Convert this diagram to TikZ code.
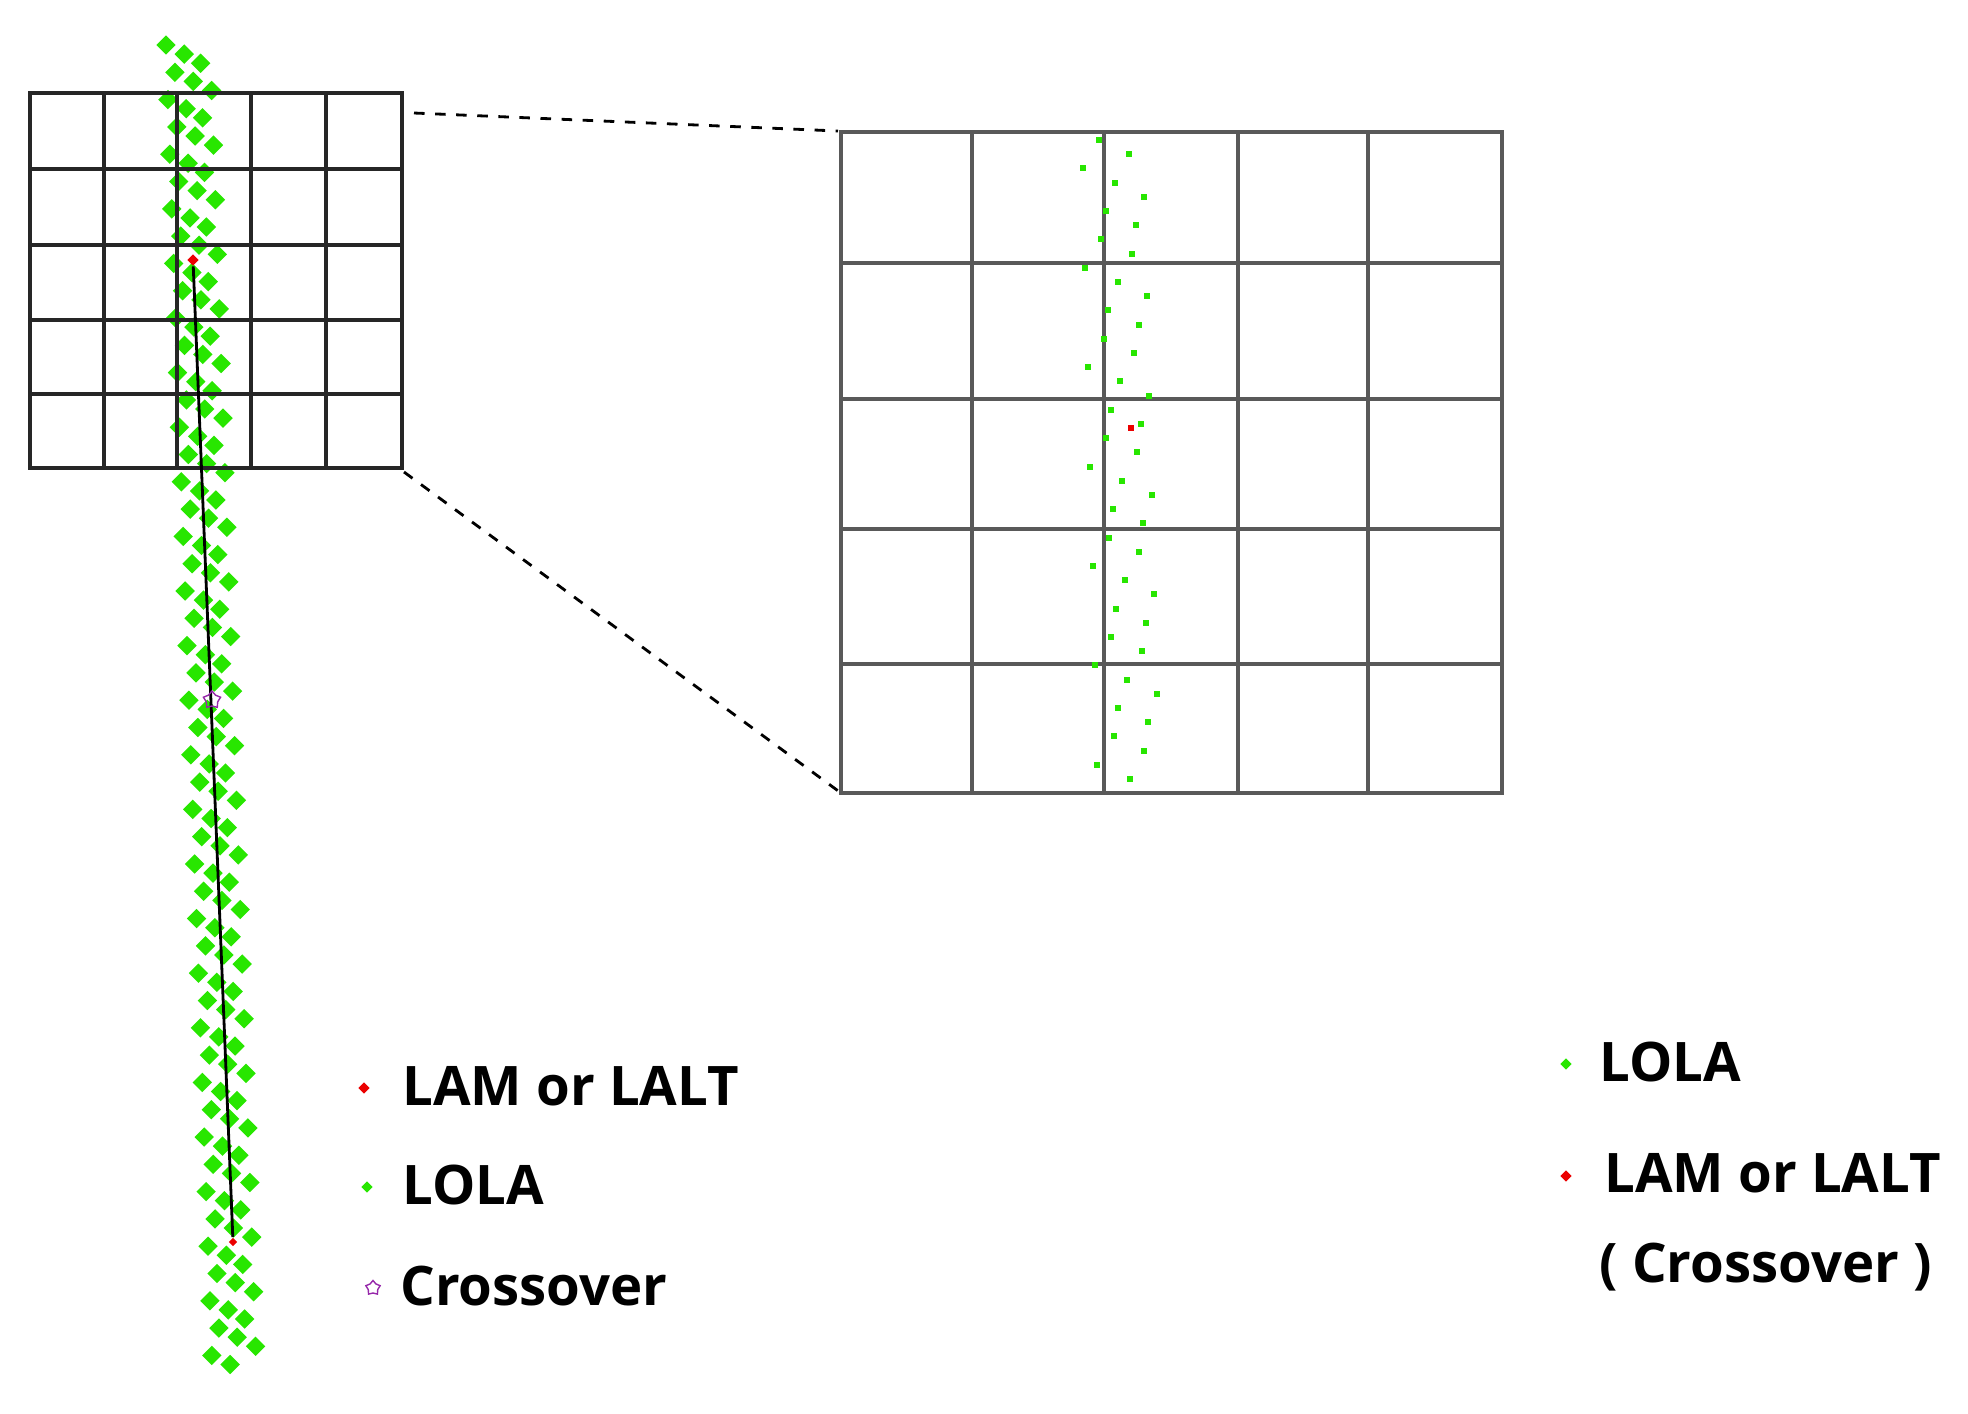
\documentclass[tikz,border=0pt]{standalone}
\usepackage{fontspec}
\setmainfont{Open Sans}
\usetikzlibrary{shapes.geometric}
\definecolor{lola}{RGB}{40,230,0}
\definecolor{lam}{RGB}{235,0,0}
\definecolor{xover}{RGB}{150,40,170}
\newlength{\unit}
\setlength{\unit}{0.01cm}
\tikzset{
  bigdot/.style={diamond, fill=lola, inner sep=0pt, minimum size=20\unit},
  smalldot/.style={rectangle, fill=lola, inner sep=0pt, minimum size=6\unit},
  legtext/.style={anchor=west, font=\bfseries\fontsize{15.5}{18}\selectfont},
}
\begin{document}
\begin{tikzpicture}[x=0.01cm, y=-0.01cm]
  \useasboundingbox (0,0) rectangle (1968,1414);

  % band of LOLA on the left
  \foreach \i in {0,...,145} {
    \pgfmathsetmacro{\yy}{45+\i*9.1}
    \pgfmathsetmacro{\off}{{-22,-4,12,-14,4,22}[mod(\i,6)]}
    \pgfmathsetmacro{\xx}{188+(\yy-45)*0.035+\off}
    \node[bigdot] (b\i) at (\xx,\yy) {};
  }

  % small grid
  \draw [line width=1.3pt, black!85] (30,93) rectangle (402,468);
  \foreach \x in {104,177,251,326} \draw [line width=1.3pt, black!85] (\x,93) -- (\x,468);
  \foreach \y in {169,245,320,394} \draw [line width=1.3pt, black!85] (30,\y) -- (402,\y);

  % track
  \node[diamond, fill=lam, inner sep=0pt, minimum size=12\unit] (top) at (193,260) {};
  \node[diamond, fill=lam, inner sep=0pt, minimum size=9\unit] (bot) at (233,1242) {};
  \draw [thick] (top) -- (bot);
  \node[star, star points=5, draw=xover, inner sep=0pt, minimum size=18\unit] (cross) at (212,700) {};

  % zoom lines
  \coordinate (zA) at (414,113);
  \coordinate (zB) at (838,131);
  \coordinate (zC) at (404,472);
  \coordinate (zD) at (841,793);
  \draw [dashed, thick] (zA) -- (zB);
  \draw [dashed, thick] (zC) -- (zD);

  % big grid
  \draw [line width=1.3pt, black!65] (841,132) rectangle (1502,793);
  \foreach \x in {972,1104,1238,1368} \draw [line width=1.3pt, black!65] (\x,132) -- (\x,793);
  \foreach \y in {263,399,529,664} \draw [line width=1.3pt, black!65] (841,\y) -- (1502,\y);

  % LOLA inside the big grid
  \foreach \i in {0,...,45} {
    \pgfmathsetmacro{\yy}{140+\i*14.2}
    \pgfmathsetmacro{\off}{{-13,17,-30,2,31,-8,22}[mod(\i,7)]}
    \node[smalldot] (s\i) at (1112+\off+\i*0.35,\yy) {};
  }
  \node[rectangle, fill=lam, inner sep=0pt, minimum size=6\unit] (mid) at (1131,428) {};

  % legend left
  \node[diamond, fill=lam, inner sep=0pt, minimum size=12\unit] (lk1) at (364,1088) {};
  \node[legtext] (lt1) at (390,1086) {LAM or LALT};
  \node[diamond, fill=lola, inner sep=0pt, minimum size=12\unit] (lk2) at (367,1187) {};
  \node[legtext] (lt2) at (390,1185) {LOLA};
  \node[star, star points=5, draw=xover, inner sep=0pt, minimum size=15\unit] (lk3) at (373,1288) {};
  \node[legtext] (lt3) at (388,1286) {Crossover};

  % legend right
  \node[diamond, fill=lola, inner sep=0pt, minimum size=12\unit] (rk1) at (1566,1064) {};
  \node[legtext] (rt1) at (1587,1062) {LOLA};
  \node[diamond, fill=lam, inner sep=0pt, minimum size=12\unit] (rk2) at (1566,1176) {};
  \node[legtext] (rt2) at (1592,1173) {LAM or LALT};
  \node[legtext] (rt3) at (1587,1267) {( Crossover )};
\end{tikzpicture}
\end{document}
